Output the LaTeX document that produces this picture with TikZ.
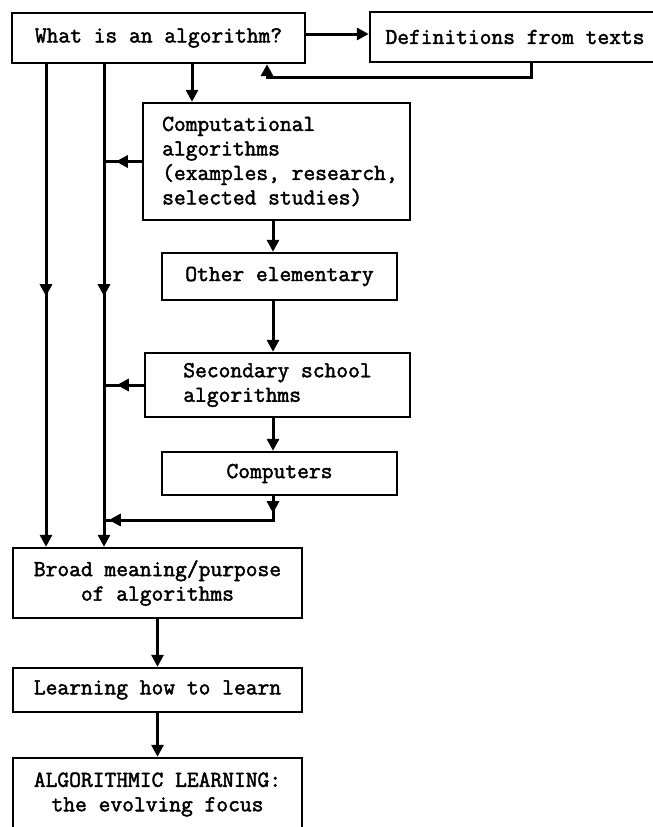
\documentclass[tikz,border=0pt]{standalone}
\usepackage{fontspec}
\usetikzlibrary{arrows.meta,decorations.markings}
\newfontfamily\tw[FakeBold=2]{Latin Modern Mono}
\begin{document}
\begin{tikzpicture}[x=1pt,y=-1pt,
  >={Triangle[length=12pt,width=12pt]},
  box/.style={draw, line width=2.4pt, inner sep=0pt, font=\tw\fontsize{22.86}{24.5}\selectfont},
  txt/.style={inner sep=0pt, font=\tw\fontsize{22.86}{24.5}\selectfont},
  wire/.style={line width=3pt},
  conn/.style={wire, ->},
  midarrow/.style={postaction={decorate}, decoration={markings, mark=at position #1 with {\arrow{>}}}}]
\useasboundingbox (0,0) rectangle (653,827);
\clip (0,0) rectangle (653,827);

% boxes
\node[box, minimum width=293pt, minimum height=50pt] (b1) at (158.5,38) {What is an algorithm?};
\node[box, minimum width=290pt, minimum height=50pt] (b2) at (515,37) {Definitions from texts};
\node[box, minimum width=267pt, minimum height=117pt] (b3) at (276.5,161.5) {};
\node[txt, anchor=west, align=left] (t3) at (162,161.5) {Computational\\algorithms\\(examples, research,\\selected studies)};
\node[box, minimum width=235pt, minimum height=47pt] (b4) at (279.5,276.5) {Other elementary};
\node[box, minimum width=265pt, minimum height=64pt, align=left] (b5) at (277.5,385) {Secondary school\\algorithms};
\node[box, minimum width=235pt, minimum height=43pt] (b6) at (279.5,473.5) {Computers};
\node[box, minimum width=289pt, minimum height=70pt, align=center] (b7) at (157.5,583) {Broad meaning/purpose\\of algorithms};
\node[box, minimum width=289pt, minimum height=44pt] (b8) at (157.5,690) {Learning how to learn};
\node[box, minimum width=289pt, minimum height=73pt, align=center] (b9) at (157.5,794.5) {ALGORITHMIC LEARNING:\\the evolving focus};

% helper coordinates
\coordinate (l1) at (46,0);
\coordinate (l2) at (104,0);
\coordinate (x192) at (192,0);
\coordinate (xc) at (273,0);
\coordinate (fb1) at (531,77);
\coordinate (fb2) at (267,77);
\coordinate (c520) at (273,520);
\coordinate (y33) at (0,34);

% connectors
\draw[conn] (b1.east |- y33) -- (b2.west |- y33);
\draw[conn] (b2.south -| fb1) -- (fb1) -- (fb2) -- (b1.south -| fb2);
\draw[conn] (b1.south -| x192) -- (b3.north -| x192);
\draw[conn, midarrow=232pt] (b1.south -| l1) -- (b7.north -| l1);
\draw[conn, midarrow=232pt] (b1.south -| l2) -- (b7.north -| l2);
\draw[wire, midarrow=26pt] (b3.west) -- (b3.west -| l2);
\draw[conn] (b3.south -| xc) -- (b4.north -| xc);
\draw[conn] (b4.south -| xc) -- (b5.north -| xc);
\draw[wire, midarrow=27pt] (b5.west) -- (b5.west -| l2);
\draw[conn] (b5.south -| xc) -- (b6.north -| xc);
\draw[wire, postaction={decorate}, decoration={markings,
   mark=at position 17pt with {\arrow{>}},
   mark=at position 188pt with {\arrow{>}}}]
   (b6.south -| xc) -- (c520) -- (c520 -| l2);
\draw[conn] (b7.south) -- (b8.north);
\draw[conn] (b8.south) -- (b9.north);
\end{tikzpicture}
\end{document}
